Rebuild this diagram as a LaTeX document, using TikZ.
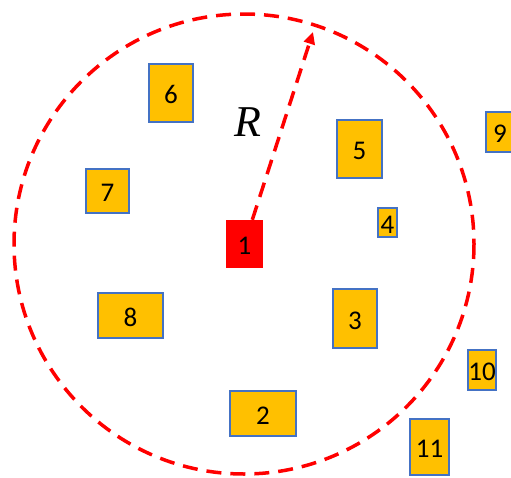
\documentclass[tikz,border=0pt]{standalone}
\usepackage{fontspec}
\setmainfont{Carlito}
\newfontfamily\rfont{Liberation Serif}
\usetikzlibrary{arrows.meta}
\definecolor{boxfill}{HTML}{FFC000}
\definecolor{boxline}{HTML}{4472C4}
\definecolor{redc}{HTML}{FF0000}
\begin{document}
\begin{tikzpicture}[x=1pt,y=-1pt,
  item/.style={draw=boxline, fill=boxfill, line width=2pt, inner sep=0pt, text height=21pt, text depth=0pt, font=\fontsize{27pt}{27pt}\selectfont},
  redbox/.style={fill=redc, draw=none, inner sep=0pt, text height=21pt, text depth=0pt, font=\fontsize{27pt}{27pt}\selectfont},
  redline/.style={draw=redc, line width=3.5pt, dash pattern=on 15pt off 9pt}]
\useasboundingbox (0,0) rectangle (511,477);
\clip (0,0) rectangle (511,477);
\coordinate (c) at (244,244);
\draw[redline] (c) circle[radius=230];
\node[redbox, minimum width=37pt, minimum height=48pt] (n1) at (244.5,244) {1};
\node[item, minimum width=66pt, minimum height=45pt] (n2) at (263,413.5) {2};
\node[item, minimum width=44pt, minimum height=59pt] (n3) at (355,318.5) {3};
\node[item, minimum width=19pt, minimum height=29pt] (n4) at (387.5,222.5) {4};
\node[item, minimum width=45pt, minimum height=58pt] (n5) at (359.5,149) {5};
\node[item, minimum width=44pt, minimum height=58pt] (n6) at (171,93) {6};
\node[item, minimum width=43pt, minimum height=44pt] (n7) at (107.5,191) {7};
\node[item, minimum width=65pt, minimum height=45pt] (n8) at (130.5,315.5) {8};
\node[item, minimum width=28pt, minimum height=40pt] (n9) at (500,132) {9};
\node[item, minimum width=28pt, minimum height=40pt] (n10) at (482,370) {10};
\node[item, minimum width=39pt, minimum height=56pt] (n11) at (429.5,447) {11};
\coordinate (tip) at (313,32);
\draw[redline, -{Triangle[length=12pt,width=11pt]}] (n1) -- (tip);
\node[inner sep=0pt] (R) at (248,122) {\rfont\itshape\fontsize{44pt}{44pt}\selectfont R};
\end{tikzpicture}
\end{document}
